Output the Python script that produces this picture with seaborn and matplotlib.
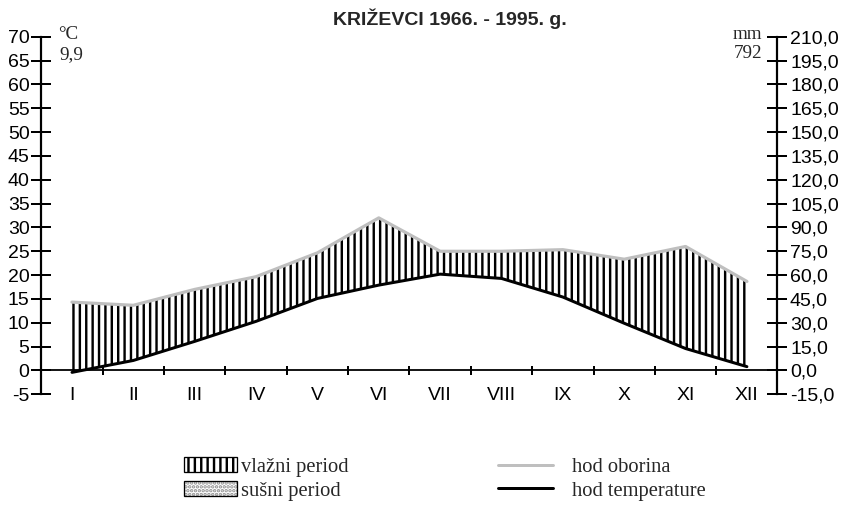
import numpy as np
import matplotlib
matplotlib.use('Agg')
import matplotlib.pyplot as plt
import seaborn as sns
from matplotlib.patches import Patch
from matplotlib.lines import Line2D
from matplotlib.legend_handler import HandlerTuple

# data
months = ['I', 'II', 'III', 'IV', 'V', 'VI', 'VII', 'VIII', 'IX', 'X', 'XI', 'XII']
temperature = [-0.4, 2.1, 6.1, 10.3, 15.1, 17.9, 20.2, 19.3, 15.4, 9.9, 4.6, 0.8]   # °C
precipitation = [43, 41, 51, 59, 74, 96, 75, 75, 76, 70, 78, 56]                 # mm
temp_ticks = list(range(-5, 75, 5))
prec_ticks = list(range(-15, 225, 15))
title = 'KRIŽEVCI 1966. - 1995. g.'
mean_temp = '9,9'
total_prec = '792'

DPI = 115
W, H = 845, 512


def pt(px):
    # pixel size -> points at the chosen dpi
    return px * 72 / DPI


sns.set_theme(style='white')
plt.rcParams['font.family'] = ['Liberation Sans', 'DejaVu Sans']
plt.rcParams['hatch.linewidth'] = pt(2.4)
serif = ['Liberation Serif', 'DejaVu Serif']

fig = plt.figure(figsize=(W / DPI, H / DPI), dpi=DPI)
ax = fig.add_axes([41 / W, 1 - 394.3 / H, 736 / W, 357.6 / H])
ax2 = ax.twinx()

x = np.arange(len(months))
temp = np.array(temperature)
prec = np.array(precipitation)
prec_on_temp = prec / 3  # 10 °C = 30 mm

# humid / dry periods
ax.fill_between(x, temp, prec_on_temp, where=prec_on_temp >= temp, interpolate=True,
                facecolor='none', edgecolor='black', linewidth=0, hatch='|||')
ax.fill_between(x, prec_on_temp, temp, where=temp > prec_on_temp, interpolate=True,
                facecolor='none', edgecolor='0.55', linewidth=0, hatch='.....')

sns.lineplot(x=x, y=temp, ax=ax, color='black', linewidth=pt(3))
sns.lineplot(x=x, y=prec, ax=ax2, color='#bfbfbf', linewidth=pt(3.2))

ax.set_xlim(-0.505, 11.49)
ax.set_ylim(-5, 70)
ax2.set_ylim(-15, 210)
ax.set_xlabel('')
ax.set_ylabel('')
ax2.set_ylabel('')

# spines
for s in ['top', 'right']:
    ax.spines[s].set_visible(False)
for s in ['top', 'left', 'bottom']:
    ax2.spines[s].set_visible(False)
ax.spines['bottom'].set_position(('data', 0))
ax.spines['left'].set_linewidth(pt(2.2))
ax.spines['bottom'].set_linewidth(pt(1.8))
ax2.spines['right'].set_linewidth(pt(2.2))
for sp in [ax.spines['left'], ax.spines['bottom'], ax2.spines['right']]:
    sp.set_color('black')

# ticks
tick_px = 19.5
ax.set_yticks(temp_ticks)
ax.set_yticklabels([str(t) for t in temp_ticks])
ax.tick_params(axis='y', left=True, direction='inout', length=pt(20), width=pt(2),
               pad=pt(1.5), labelsize=pt(tick_px), colors='black')

ax.set_xticks(x)
ax.set_xticklabels(months)
ax.tick_params(axis='x', which='major', bottom=True, length=0, pad=pt(17),
               labelsize=pt(tick_px), colors='black')
ax.set_xticks(x[:-1] + 0.5, minor=True)
ax.tick_params(axis='x', which='minor', bottom=True, direction='inout',
               length=pt(9), width=pt(2), color='black')

ax2.set_yticks(prec_ticks)
ax2.set_yticklabels([f'{v:.1f}'.replace('.', ',') for v in prec_ticks])
ax2.tick_params(axis='y', right=True, direction='inout', length=pt(20), width=pt(2),
                pad=pt(3), labelsize=pt(tick_px), colors='black')
ax.grid(False)
ax2.grid(False)

# texts
fig.text(450 / W, 1 - 25 / H, title, ha='center', va='baseline',
         fontsize=pt(19.5), fontweight='bold')
fig.text(58 / W, 1 - 39 / H, '°C', ha='left', va='baseline', family=serif, fontsize=pt(19))
fig.text(59 / W, 1 - 59 / H, mean_temp, ha='left', va='baseline', family=serif, fontsize=pt(19))
fig.text(762 / W, 1 - 39 / H, 'mm', ha='right', va='baseline', family=serif, fontsize=pt(19))
fig.text(762 / W, 1 - 58 / H, total_prec, ha='right', va='baseline', family=serif, fontsize=pt(19))

# legends
leg_font = {'family': serif, 'size': pt(20.5)}
h_wet = Patch(facecolor='white', edgecolor='black', hatch='|||', linewidth=pt(1.3))
h_dry = (Patch(facecolor='white', edgecolor='0.55', hatch='.....', linewidth=0),
         Patch(facecolor='none', edgecolor='black', linewidth=pt(1.3)))
fig.legend([h_wet, h_dry], ['vlažni period', 'sušni period'], loc='center left',
           bbox_to_anchor=(184 / W, 1 - 479 / H), frameon=False, prop=leg_font,
           handlelength=2.6, handleheight=0.7, handletextpad=0.2, labelspacing=0.22,
           borderpad=0, borderaxespad=0, handler_map={tuple: HandlerTuple(ndivide=1, pad=0)})
fig.legend([Line2D([], [], color='#bfbfbf', lw=pt(3)), Line2D([], [], color='black', lw=pt(3))],
           ['hod oborina', 'hod temperature'], loc='center left',
           bbox_to_anchor=(498 / W, 1 - 479 / H), frameon=False, prop=leg_font,
           handlelength=2.7, handletextpad=0.9, labelspacing=0.22,
           borderpad=0, borderaxespad=0)

fig.savefig('out.png', dpi=DPI)
